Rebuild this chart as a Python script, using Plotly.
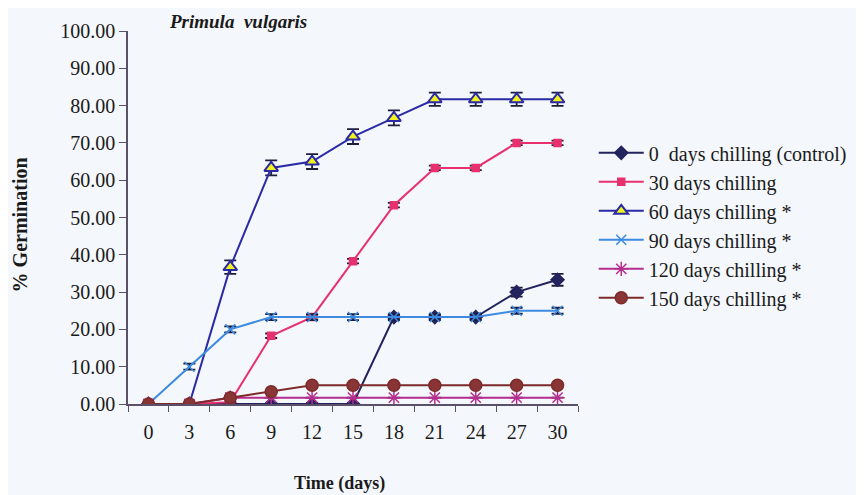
import plotly.graph_objects as go

days = [0, 3, 6, 9, 12, 15, 18, 21, 24, 27, 30]
series_names = [
    "0  days chilling (control)",
    "30 days chilling",
    "60 days chilling *",
    "90 days chilling *",
    "120 days chilling *",
    "150 days chilling *",
]
control = [0, 0, 0, 0, 0, 0, 23.3, 23.3, 23.3, 30.0, 33.3]
chill30 = [0, 0, 0.5, 18.3, 23.3, 38.3, 53.3, 63.3, 63.3, 70.0, 70.0]
chill60 = [0, 0, 36.7, 63.3, 65.0, 71.7, 76.7, 81.7, 81.7, 81.7, 81.7]
chill90 = [0, 10.0, 20.0, 23.3, 23.3, 23.3, 23.3, 23.3, 23.3, 25.0, 25.0]
chill120 = [0, 0, 1.7, 1.7, 1.7, 1.7, 1.7, 1.7, 1.7, 1.7, 1.7]
chill150 = [0, 0, 1.7, 3.3, 5.0, 5.0, 5.0, 5.0, 5.0, 5.0, 5.0]

err_control = [0, 0, 0, 0, 0, 0, 0.6, 0.6, 0.6, 1.2, 1.6]
err30 = [0, 0, 0, 0.6, 0.6, 0.6, 0.6, 0.6, 0.6, 0.6, 0.6]
err60 = [0, 0, 1.8, 2.0, 2.0, 2.0, 2.0, 1.8, 1.8, 1.8, 1.8]
err90 = [0, 0.8, 0.8, 0.8, 0.8, 0.8, 0.8, 0.8, 0.8, 0.8, 0.8]
err120 = [0, 0, 0, 0, 0, 0, 0, 0, 0, 0, 0]
err150 = [0, 0, 0, 0, 0, 0, 0, 0, 0, 0, 0]

values = [control, chill30, chill60, chill90, chill120, chill150]
errors = [err_control, err30, err60, err90, err120, err150]
line_colors = ["#23235E", "#E8306F", "#2A2AA6", "#3D8BE0", "#B52E8E", "#7E2A2A"]
marker_symbols = ["diamond", "square", "triangle-up", "x-thin", "asterisk", "circle"]
marker_fill = ["#23235E", "#E8306F", "#F2F21E", "#3D8BE0", "#B52E8E", "#8A3535"]
marker_sizes = [10, 7, 12, 10, 12, 12]

fig = go.Figure()
for name, y, e, lc, sym, mf, ms in zip(series_names, values, errors, line_colors,
                                       marker_symbols, marker_fill, marker_sizes):
    marker = dict(symbol=sym, size=ms, color=mf, line=dict(color=lc, width=1.5))
    if sym == "triangle-up":
        marker["line"] = dict(color="#2A2AA6", width=2)
    fig.add_trace(go.Scatter(
        x=days, y=y, name=name, mode="lines+markers",
        line=dict(color=lc, width=2),
        marker=marker,
        error_y=dict(type="data", array=e, visible=True, color="#1E1E3C",
                     thickness=1.8, width=6),
    ))

# page body has an 8px margin, so the figure is sized/offset to compensate
fig.update_layout(
    width=856, height=487,
    margin=dict(l=120, r=285, t=17, b=91),
    paper_bgcolor="#F4F7FB",
    plot_bgcolor="rgba(0,0,0,0)",
    font=dict(family="Liberation Serif, Times New Roman, serif", size=20, color="#1A1A1A"),
    showlegend=True,
    legend=dict(x=1.035, y=0.479, xanchor="left", yanchor="middle",
                bgcolor="rgba(0,0,0,0)", font=dict(size=20),
                tracegroupgap=0, itemwidth=45),
    xaxis=dict(
        range=[-1.5, 31.5], tickvals=days, ticktext=[str(d) for d in days],
        ticks="outside", ticklen=9, tickcolor="rgba(0,0,0,0)",
        showgrid=False, zeroline=False,
        showline=True, linecolor="#5A5068", linewidth=1.5,
        tickfont=dict(size=20),
        minor=dict(ticks="outside", tick0=-1.5, dtick=3, ticklen=6,
                   tickcolor="#5A5068", showgrid=False),
    ),
    yaxis=dict(
        range=[0, 100], dtick=10, tickformat=".2f",
        ticks="outside", ticklen=7, tickcolor="#5A5068",
        showgrid=False, zeroline=False,
        showline=True, linecolor="#5A5068", linewidth=1.5,
        tickfont=dict(size=20),
    ),
    annotations=[
        dict(text="<b><i>Primula  vulgaris</i></b>", xref="paper", yref="paper",
             x=(167 - 128) / 451, y=1.025, xanchor="left", yanchor="middle",
             showarrow=False, font=dict(size=19)),
        dict(text="<b>% Germination</b>", xref="paper", yref="paper",
             x=-0.239, y=0.48, textangle=-90, xanchor="center", yanchor="middle",
             showarrow=False, font=dict(size=20)),
        dict(text="<b>Time (days)</b>", xref="paper", yref="paper",
             x=(340 - 128) / 451, y=-0.214, xanchor="center", yanchor="middle",
             showarrow=False, font=dict(size=18)),
    ],
)

fig.write_html("out.html")
